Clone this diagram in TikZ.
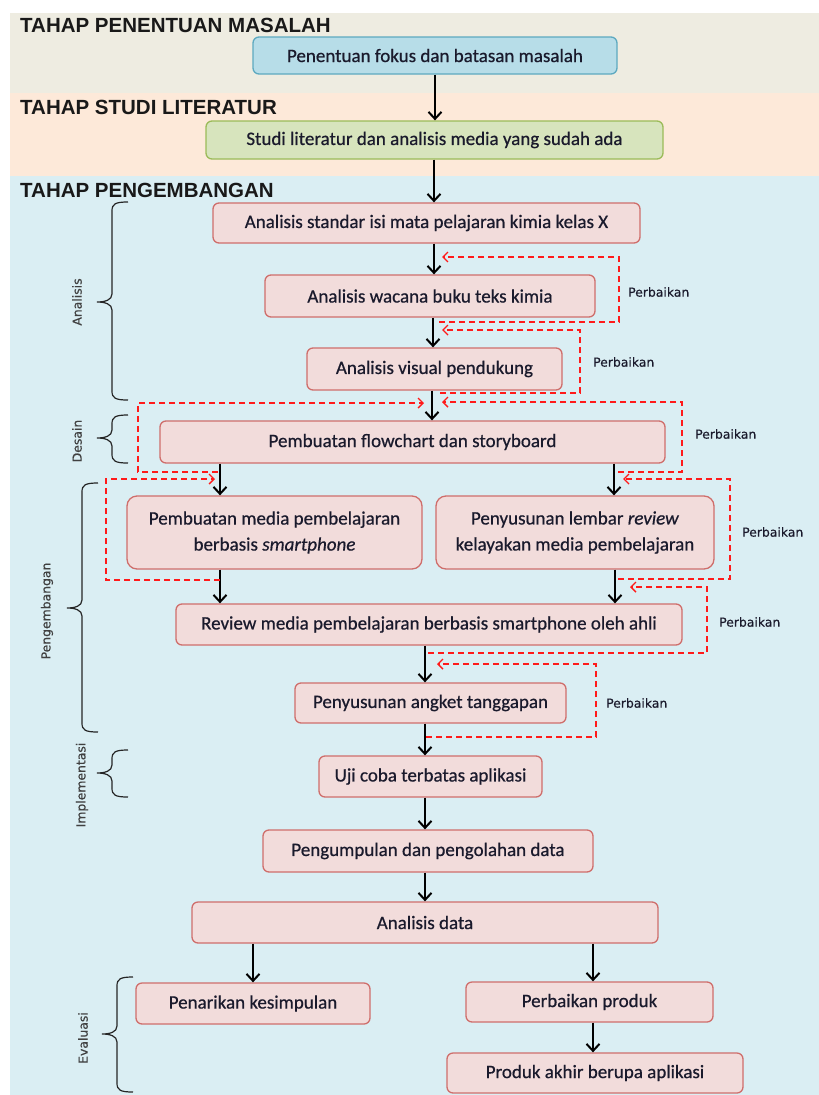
\documentclass[tikz,border=0pt]{standalone}
\usepackage{fontspec}
\usetikzlibrary{arrows.meta}
\newfontfamily\boxfont[FakeBold=0.6]{Carlito}
\newfontfamily\headfont{Liberation Sans}
\newfontfamily\tagfont[FakeBold=0.4]{DejaVu Sans}
\definecolor{bgbeige}{HTML}{EEECE1}
\definecolor{bgpeach}{HTML}{FDE9D9}
\definecolor{bgblue}{HTML}{DAEEF3}
\definecolor{pinkfill}{HTML}{F2DCDB}
\definecolor{pinkline}{HTML}{CF6E6B}
\definecolor{bluefill}{HTML}{B7DDE8}
\definecolor{blueline}{HTML}{5DA9C0}
\definecolor{greenfill}{HTML}{D7E4BD}
\definecolor{greenline}{HTML}{9BBB59}
\definecolor{txt}{HTML}{1A1A2C}
\definecolor{fbred}{HTML}{FF1A1A}
\newcommand\SideBrace[4]{%
  \draw[brc] ({#1+16},#2) .. controls ({#1+3},#2) and (#1,{#2+2}) .. (#1,{#2+9})
    -- (#1,{#4-8}) .. controls (#1,{#4-2}) and ({#1-7},#4) .. ({#1-15},#4)
    .. controls ({#1-7},#4) and (#1,{#4+2}) .. (#1,{#4+8})
    -- (#1,{#3-9}) .. controls (#1,{#3-2}) and ({#1+3},#3) .. ({#1+16},#3);}
\begin{document}
\begin{tikzpicture}[x=1pt,y=-1pt,
  procbox/.style={draw=pinkline, fill=pinkfill, line width=1.3pt, rounded corners=6pt,
    align=center, text=txt, font=\boxfont\fontsize{19}{26}\selectfont, inner sep=0pt},
  bluebox/.style={procbox, draw=blueline, fill=bluefill},
  greenbox/.style={procbox, draw=greenline, fill=greenfill},
  arr/.style={draw=black, line width=2pt, -{Straight Barb[length=7pt,width=13pt]}},
  fb/.style={draw=fbred, line width=1.4pt, dash pattern=on 6pt off 4pt,
    -{Straight Barb[length=5pt,width=10pt]}},
  brc/.style={draw=black!85, line width=1.2pt},
  tag/.style={font=\tagfont\fontsize{12.4}{14}\selectfont, text=txt, inner sep=0pt, anchor=west},
  side/.style={font=\tagfont\fontsize{12.4}{14}\selectfont, text=black!75, rotate=90, inner sep=0pt},
  head/.style={font=\headfont\bfseries\fontsize{20.5}{24}\selectfont, text=black!90,
    anchor=base west, inner sep=0pt}]
\useasboundingbox (0,0) rectangle (819,1095);
% background bands
\fill[white] (0,0) rectangle (819,1095);
\fill[bgbeige] (10,13) rectangle (819,93);
\fill[bgpeach] (10,93) rectangle (819,176);
\fill[bgblue] (10,176) rectangle (819,1095);
% headings
\node[head] (h1) at (20,32) {TAHAP PENENTUAN MASALAH};
\node[head] (h2) at (20,114) {TAHAP STUDI LITERATUR};
\node[head] (h3) at (20,197) {TAHAP PENGEMBANGAN};
% boxes
\node[bluebox, minimum width=364pt, minimum height=37pt] (B1) at (435,55.5) {Penentuan fokus dan batasan masalah};
\node[greenbox, minimum width=457pt, minimum height=38pt] (B2) at (434.5,140) {Studi literatur dan analisis media yang sudah ada};
\node[procbox, minimum width=427pt, minimum height=40pt] (B3) at (426.5,223) {Analisis standar isi mata pelajaran kimia kelas X};
\node[procbox, minimum width=330pt, minimum height=42pt] (B4) at (430,296) {Analisis wacana buku teks kimia};
\node[procbox, minimum width=255pt, minimum height=42pt] (B5) at (434.5,369) {Analisis visual pendukung};
\node[procbox, minimum width=505pt, minimum height=42pt] (B6) at (412.5,442) {Pembuatan flowchart dan storyboard};
\node[procbox, rounded corners=10pt, minimum width=295pt, minimum height=73pt] (B7) at (274.5,532.5) {Pembuatan media pembelajaran\\berbasis \textit{smartphone}};
\node[procbox, rounded corners=10pt, minimum width=278pt, minimum height=73pt] (B8) at (575,532.5) {Penyusunan lembar \textit{review}\\kelayakan media pembelajaran};
\node[procbox, minimum width=506pt, minimum height=41pt] (B9) at (429,624.5) {Review media pembelajaran berbasis smartphone oleh ahli};
\node[procbox, minimum width=271pt, minimum height=40pt] (B10) at (430.5,703) {Penyusunan angket tanggapan};
\node[procbox, minimum width=223pt, minimum height=41pt] (B11) at (430.5,776.5) {Uji coba terbatas aplikasi};
\node[procbox, minimum width=330pt, minimum height=42pt] (B12) at (428,851) {Pengumpulan dan pengolahan data};
\node[procbox, minimum width=466pt, minimum height=41pt] (B13) at (425,922.5) {Analisis data};
\node[procbox, minimum width=234pt, minimum height=41pt] (B14) at (253,1003.5) {Penarikan kesimpulan};
\node[procbox, minimum width=247pt, minimum height=40pt] (B15) at (589.5,1002) {Perbaikan produk};
\node[procbox, minimum width=296pt, minimum height=40pt] (B16) at (595,1073) {Produk akhir berupa aplikasi};
% main arrows
\draw[arr] (B1.south -| 435,0) -- (B2.north -| 435,0);
\draw[arr] (B2.south -| 434,0) -- (B3.north -| 434,0);
\draw[arr] (B3.south -| 434,0) -- (B4.north -| 434,0);
\draw[arr] (B4.south -| 433,0) -- (B5.north -| 433,0);
\draw[arr] (B5.south -| 432,0) -- (B6.north -| 432,0);
\draw[arr] (B6.south -| 220,0) -- (B7.north -| 220,0);
\draw[arr] (B6.south -| 614,0) -- (B8.north -| 614,0);
\draw[arr] (B7.south -| 220,0) -- (B9.north -| 220,0);
\draw[arr] (B8.south -| 615,0) -- (B9.north -| 615,0);
\draw[arr] (B9.south -| 425,0) -- (B10.north -| 425,0);
\draw[arr] (B10.south -| 425,0) -- (B11.north -| 425,0);
\draw[arr] (B11.south -| 425,0) -- (B12.north -| 425,0);
\draw[arr] (B12.south -| 425,0) -- (B13.north -| 425,0);
\draw[arr] (B13.south -| 253,0) -- (B14.north -| 253,0);
\draw[arr] (B13.south -| 593,0) -- (B15.north -| 593,0);
\draw[arr] (B15.south -| 593,0) -- (B16.north -| 593,0);
% feedback loops
\coordinate (fa1) at (439,322); \coordinate (fa2) at (442,257);
\coordinate (fb1) at (440,393); \coordinate (fb2) at (442,330);
\coordinate (fc1) at (618,472); \coordinate (fc2) at (442,402);
\coordinate (fd1) at (218,472); \coordinate (fd2) at (424,403);
\coordinate (fe1) at (220,580); \coordinate (fe2) at (215,479);
\coordinate (ff1) at (618,579); \coordinate (ff2) at (623,479);
\coordinate (fg1) at (428,653); \coordinate (fg2) at (630,587);
\coordinate (fh1) at (426,737); \coordinate (fh2) at (437,664);
\draw[fb] (fa1) -| (619,257) -- (fa2);
\draw[fb] (fb1) -| (580,330) -- (fb2);
\draw[fb] (fc1) -| (682,402) -- (fc2);
\draw[fb] (fd1) -| (138,403) -- (fd2);
\draw[fb] (fe1) -| (106,479) -- (fe2);
\draw[fb] (ff1) -| (730,479) -- (ff2);
\draw[fb] (fg1) -| (707,587) -- (fg2);
\draw[fb] (fh1) -| (596,664) -- (fh2);
% Perbaikan labels
\node[tag] (p1) at (628,292) {Perbaikan};
\node[tag] (p2) at (593,362) {Perbaikan};
\node[tag] (p3) at (695,434) {Perbaikan};
\node[tag] (p4) at (742,532) {Perbaikan};
\node[tag] (p5) at (719,622) {Perbaikan};
\node[tag] (p6) at (606,703) {Perbaikan};
% braces
\SideBrace{112}{202}{400}{302}
\SideBrace{112}{415}{463}{438}
\SideBrace{82}{483}{732}{608}
\SideBrace{112}{750}{797}{773}
\SideBrace{117}{977}{1092}{1034}
% side labels
\node[side] (s1) at (77,302) {Analisis};
\node[side] (s2) at (77,441) {Desain};
\node[side] (s3) at (47,611) {Pengembangan};
\node[side] (s4) at (82,785) {Implementasi};
\node[side] (s5) at (83,1038) {Evaluasi};
\end{tikzpicture}
\end{document}
